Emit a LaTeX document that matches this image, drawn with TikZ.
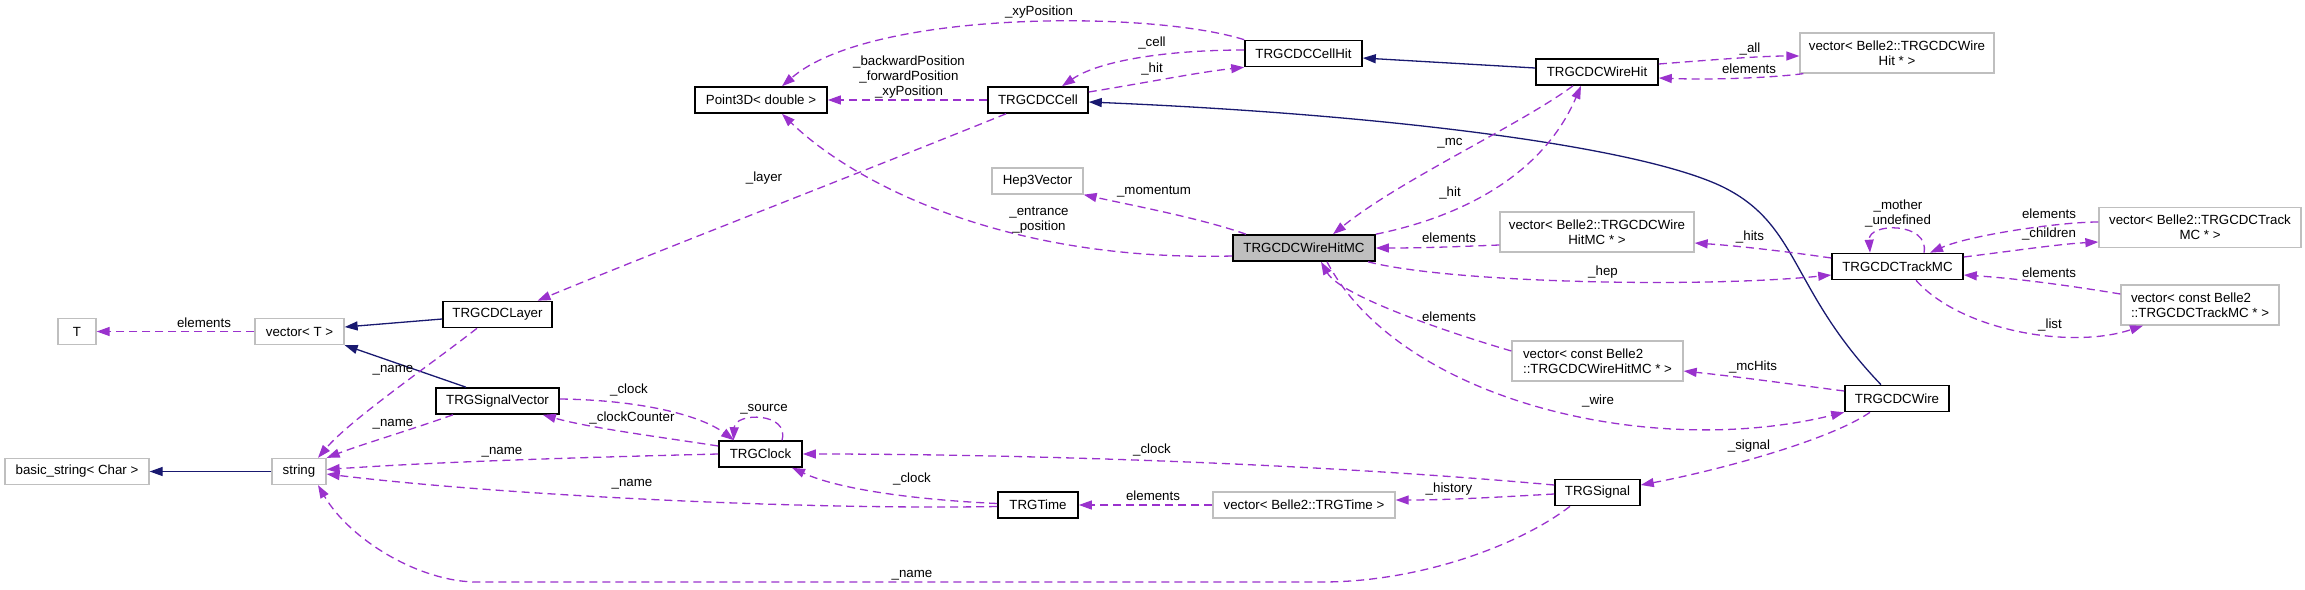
\documentclass[tikz,border=0pt]{standalone}
\usepackage{fontspec}
\setmainfont{Liberation Sans}
\usetikzlibrary{arrows.meta}
\definecolor{dorchid}{HTML}{9A32CD}
\definecolor{mblue}{HTML}{191970}
\definecolor{grayb}{HTML}{BFBFBF}
\begin{document}
\begin{tikzpicture}[x=1pt,y=-1pt,
  every node/.style={font=\fontsize{13.3pt}{15pt}\selectfont, inner sep=0pt},
  cls/.style={draw=black, line width=1.6pt, minimum height=26pt, fill=white},
  ext/.style={draw=grayb, line width=1.3pt, minimum height=26pt, fill=white},
  two/.style={minimum height=40pt},
  lbl/.style={},
  dep/.style={draw=dorchid, line width=1.3pt, dash pattern=on 8pt off 5pt, -{Triangle[length=13pt,width=9pt]}},
  inh/.style={draw=mblue, line width=1.3pt, -{Triangle[length=13pt,width=9pt]}}]
\useasboundingbox (0,0) rectangle (2305,589);
% nodes
\node[ext, minimum width=38pt] (T) at (77,331.5) {T};
\node[ext, minimum width=89pt] (vecT) at (299.5,331.5) {vector< T >};
\node[cls, minimum width=109pt] (layer) at (497.5,314.5) {TRGCDCLayer};
\node[cls, minimum width=123pt] (sigvec) at (497.5,401) {TRGSignalVector};
\node[ext, minimum width=144pt] (basic) at (77,471.5) {basic\_string< Char >};
\node[ext, minimum width=54pt] (string) at (299,471.5) {string};
\node[cls, minimum width=83pt] (clock) at (760.5,454) {TRGClock};
\node[cls, minimum width=80pt] (time) at (1038,505) {TRGTime};
\node[ext, minimum width=182pt] (vtime) at (1304,505) {vector< Belle2::TRGTime >};
\node[cls, minimum width=85pt] (signal) at (1597.5,492.5) {TRGSignal};
\node[cls, minimum width=104pt] (wire) at (1897,398.5) {TRGCDCWire};
\node[ext, two, minimum width=171pt, align=left] (vwhmc2) at (1597.5,361) {vector< const Belle2\\::TRGCDCWireHitMC * >};
\node[cls, minimum width=131pt] (trackmc) at (1897.5,266.5) {TRGCDCTrackMC};
\node[ext, two, minimum width=202pt, align=center] (vtmc) at (2200,227.5) {vector< Belle2::TRGCDCTrack\\MC * >};
\node[ext, two, minimum width=158pt, align=left] (vctmc) at (2200,305) {vector< const Belle2\\::TRGCDCTrackMC * >};
\node[ext, two, minimum width=194pt, align=center] (vwhmc) at (1597,232) {vector< Belle2::TRGCDCWire\\HitMC * >};
\node[cls, fill=grayb, minimum width=142pt] (whmc) at (1304,248) {TRGCDCWireHitMC};
\node[ext, minimum width=91pt] (hep) at (1037.5,181) {Hep3Vector};
\node[cls, minimum width=132pt] (point) at (761,100) {Point3D< double >};
\node[cls, minimum width=100pt] (cell) at (1038,100) {TRGCDCCell};
\node[cls, minimum width=117pt] (cellhit) at (1303.5,53.5) {TRGCDCCellHit};
\node[cls, minimum width=122pt] (wirehit) at (1597,72) {TRGCDCWireHit};
\node[ext, two, minimum width=194pt, align=center] (vwh) at (1897,53) {vector< Belle2::TRGCDCWire\\Hit * >};
% edges
\draw[dep] (vecT.west) -- (T.east);
\draw[inh] ([yshift=-4.5pt]layer.west) -- ([yshift=4.5pt]vecT.east);
\draw[inh] ([xshift=-31.5pt]sigvec.north) -- (vecT.south east);
\draw[inh] (string.west) -- (basic.east);
\draw[dep] ([xshift=-20.5pt]layer.south) .. controls (430,365) and (350,420) .. ([xshift=19pt]string.north);
\draw[dep] ([xshift=-44.5pt]sigvec.south) .. controls (410,430) and (360,445) .. (string.north east);
\draw[dep] ([yshift=2pt]sigvec.east) .. controls (640,400) and (700,415) .. ([xshift=-26.5pt]clock.north);
\draw[dep] ([yshift=8pt]clock.west) .. controls (660,437) and (590,428) .. ([xshift=-17pt]sigvec.south east);
\draw[dep] (clock.west) .. controls (600,457) and (450,461) .. ([yshift=2pt]string.east);
\draw[dep] ([yshift=-1.5pt]time.west) .. controls (800,510) and (500,495) .. ([yshift=-2.5pt]string.east);
\coordinate (b1) at (1322,582);
\coordinate (b2) at (477,582);
\draw[dep] ([xshift=-27.5pt]signal.south) .. controls (1520,545) and (1420,582) .. (b1) -- (b2) .. controls (420,582) and (350,540) .. ([xshift=19pt]string.south);
\draw[dep] ([xshift=21.5pt]clock.north) .. controls (790,412) and (735,412) .. ([xshift=-27pt]clock.north);
\draw[dep] ([yshift=1.5pt]time.west) .. controls (920,500) and (840,490) .. ([xshift=31.5pt]clock.south);
\draw[dep] ([yshift=7.5pt]signal.west) .. controls (1300,462) and (1000,454) .. (clock.east);
\draw[dep] (vtime.west) -- (time.east);
\draw[dep] ([yshift=-1.5pt]signal.west) .. controls (1500,497) and (1450,500) .. ([yshift=5pt]vtime.east);
\draw[dep] ([xshift=-32pt]cell.south) .. controls (880,165) and (660,250) .. ([xshift=40pt]layer.north);
\draw[dep] (cellhit.north west) .. controls (1150,10) and (870,10) .. ([xshift=21pt]point.north);
\draw[dep] ([yshift=3.5pt]cellhit.west) .. controls (1170,50) and (1100,60) .. ([xshift=24pt]cell.north);
\draw[dep] ([yshift=8pt]cell.east) .. controls (1150,82) and (1200,72) .. (cellhit.south west);
\draw[dep] (cell.west) -- (point.east);
\coordinate (w1) at (1723,187);
\draw[inh] ([xshift=-16pt]wire.north) .. controls (1790,290) and (1800,225) .. (w1) .. controls (1643,148) and (1400,115) .. ([yshift=-2pt]cell.east);
\draw[inh] ([yshift=4pt]wirehit.west) -- ([yshift=-4.5pt]cellhit.east);
\draw[dep] ([xshift=-58pt]whmc.north) .. controls (1200,218) and (1130,205) .. (hep.south east);
\draw[dep] ([yshift=-8pt]whmc.west) .. controls (1000,262) and (850,180) .. ([xshift=21pt]point.south);
\draw[dep] ([xshift=-24pt]wirehit.south) .. controls (1520,125) and (1400,180) .. ([xshift=29pt]whmc.north);
\draw[dep] (whmc.north east) .. controls (1470,215) and (1545,170) .. ([xshift=-16pt]wirehit.south);
\draw[dep] ([yshift=-13pt]vwhmc.west) .. controls (1450,247) and (1420,248) .. (whmc.east);
\draw[dep] ([yshift=8pt]wirehit.east) .. controls (1710,60) and (1760,56) .. ([yshift=-3pt]vwh.west);
\draw[dep] ([xshift=4pt]vwh.south west) .. controls (1770,78) and (1710,80) .. ([yshift=-6pt]wirehit.east);
\draw[dep] ([yshift=8.5pt]trackmc.west) .. controls (1790,252) and (1740,246) .. ([yshift=-11pt]vwhmc.east);
\draw[dep] ([xshift=64pt]whmc.south) .. controls (1450,283) and (1700,288) .. ([yshift=-8.5pt]trackmc.west);
\draw[dep] ([xshift=26.5pt]trackmc.north) .. controls (1930,222) and (1868,222) .. ([xshift=-27.5pt]trackmc.north);
\draw[dep] ([yshift=5.5pt]vtmc.west) .. controls (2060,222) and (1970,235) .. ([xshift=32.5pt]trackmc.north);
\draw[dep] ([yshift=9.5pt]trackmc.east) .. controls (2020,250) and (2060,244) .. ([yshift=-14.5pt]vtmc.west);
\draw[dep] ([yshift=11pt]vctmc.west) .. controls (2060,284) and (2010,278) .. ([yshift=-8.5pt]trackmc.east);
\draw[dep] ([xshift=18.5pt]trackmc.south) .. controls (1960,330) and (2070,350) .. ([xshift=-57pt]vctmc.south);
\draw[dep] ([yshift=10pt]vwhmc2.west) .. controls (1440,330) and (1340,295) .. ([xshift=17pt]whmc.south);
\draw[dep] ([yshift=7.5pt]wire.west) .. controls (1790,384) and (1740,377) .. ([yshift=-10pt]vwhmc2.east);
\draw[dep] ([xshift=23pt]whmc.south) .. controls (1400,400) and (1650,460) .. (wire.south west);
\draw[dep] ([xshift=-27pt]wire.south) .. controls (1830,440) and (1720,470) .. ([yshift=7.5pt]signal.east);
% labels
\node[lbl] (l1) at (204,323) {elements};
\node[lbl] (l2) at (393,370) {\_name};
\node[lbl] (l3) at (393,424) {\_name};
\node[lbl] (l4) at (629,390) {\_clock};
\node[lbl] (l5) at (632,418) {\_clockCounter};
\node[lbl] (l6) at (502,452) {\_name};
\node[lbl] (l7) at (632,484) {\_name};
\node[lbl] (l8) at (912,575) {\_name};
\node[lbl] (l9) at (764,409) {\_source};
\node[lbl] (l10) at (912,479) {\_clock};
\node[lbl] (l11) at (1152,450) {\_clock};
\node[lbl] (l12) at (1153,496) {elements};
\node[lbl] (l13) at (1449,489) {\_history};
\node[lbl] (l14) at (764,178) {\_layer};
\node[lbl] (l15) at (1039,12) {\_xyPosition};
\node[lbl] (l16) at (1152,43) {\_cell};
\node[lbl] (l17) at (1152,69) {\_hit};
\node[lbl, align=center] (l18) at (909,77) {\_backwardPosition\\\_forwardPosition\\\_xyPosition};
\node[lbl] (l19) at (1154,192) {\_momentum};
\node[lbl, align=center] (l20) at (1039,220) {\_entrance\\\_position};
\node[lbl] (l21) at (1450,143) {\_mc};
\node[lbl] (l22) at (1450,193) {\_hit};
\node[lbl] (l23) at (1449,238) {elements};
\node[lbl] (l24) at (1750,49) {\_all};
\node[lbl] (l25) at (1749,69) {elements};
\node[lbl] (l26) at (1750,237) {\_hits};
\node[lbl] (l27) at (1603,272) {\_hep};
\node[lbl, align=center] (l28) at (1898,214) {\_mother\\\_undefined};
\node[lbl] (l29) at (2049,214) {elements};
\node[lbl] (l30) at (2049,234) {\_children};
\node[lbl] (l31) at (2049,273) {elements};
\node[lbl] (l32) at (2050,325) {\_list};
\node[lbl] (l33) at (1449,317) {elements};
\node[lbl] (l34) at (1753,367) {\_mcHits};
\node[lbl] (l35) at (1598,401) {\_wire};
\node[lbl] (l36) at (1749,446) {\_signal};
\end{tikzpicture}
\end{document}
